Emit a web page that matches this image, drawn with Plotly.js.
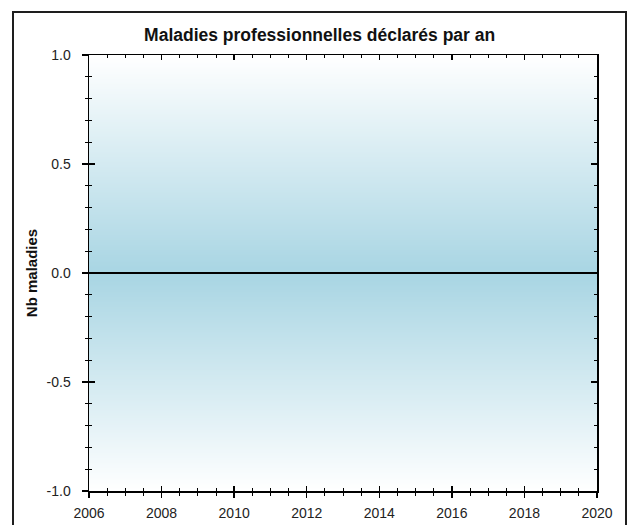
<!DOCTYPE html>
<html>
<head>
<meta charset="utf-8">
<script src="https://cdn.plot.ly/plotly-3.0.1.min.js"></script>
<style>
html,body{margin:0;padding:0;overflow:hidden;background:#fff;width:628px;height:525px}
#chart{position:absolute;left:0;top:0;width:628px;height:525px}
#frame{position:absolute;left:12px;top:11px;width:615px;height:580px;box-sizing:border-box;border:2px solid #1e1e1e;pointer-events:none;z-index:10}
</style>
</head>
<body>
<div id="chart"></div>
<div id="frame"></div>
<script>
// ---- data ----
const chartTitle = 'Maladies professionnelles déclarés par an';
const yTitle = 'Nb maladies';
const years = [];          // no declared diseases in the period
const maladies = [];
const xRange = [2006, 2020];
const xTick0 = 2006;
const xMajorStep = 2;
const xMinorStep = 0.5;
const yRange = [-1, 1];
const yTickVals = [-1, -0.5, 0, 0.5, 1];
const yTickText = ['-1.0', '-0.5', '0.0', '0.5', '1.0'];
const yMinorStep = 0.1;
const bgLevels = [-1, 0, 1];   // gradient stops of the plot background
const bgShade = [1, 0, 1];

// ---- styles ----
const FONT = 'Liberation Sans, Arial, sans-serif';
const tickFont = {family: FONT, size: 14, color: '#222'};
const INK = '#000';

const traces = [
  {
    type: 'heatmap',
    x: xRange,
    y: bgLevels,
    z: bgShade.map(v => [v, v]),
    zsmooth: 'best',
    colorscale: [[0, '#a8d5e3'], [1, '#ffffff']],
    zmin: 0, zmax: 1,
    showscale: false,
    hoverinfo: 'skip'
  },
  {
    type: 'scatter',
    mode: 'lines+markers',
    x: years,
    y: maladies,
    line: {color: '#1f5f8b', width: 2},
    showlegend: false
  },
  {
    type: 'scatter',
    mode: 'none',
    x: xRange,
    y: yRange,
    xaxis: 'x2',
    yaxis: 'y2',
    hoverinfo: 'skip',
    showlegend: false
  }
];

const layout = {
  width: 628,
  height: 525,
  margin: {l: 89, r: 31, t: 55, b: 34},
  paper_bgcolor: '#fff',
  plot_bgcolor: '#fff',
  showlegend: false,
  title: {
    text: chartTitle,
    font: {family: FONT, size: 17.5, color: '#111', weight: 'bold'},
    x: 0.509, xref: 'container', xanchor: 'center',
    y: 1 - 35 / 525, yref: 'container', yanchor: 'middle'
  },
  xaxis: {
    range: xRange,
    tickmode: 'linear', tick0: xTick0, dtick: xMajorStep,
    ticks: 'outside', ticklen: 5, tickwidth: 1.5, tickcolor: INK,
    showline: true, linecolor: INK, linewidth: 1.5, mirror: true,
    minor: {tickmode: 'linear', tick0: xTick0, dtick: xMinorStep, ticks: 'outside', ticklen: 3, tickwidth: 1, tickcolor: INK, showgrid: false},
    showgrid: false, zeroline: false,
    tickfont: tickFont, ticklabelstandoff: 4, fixedrange: true
  },
  yaxis: {
    range: yRange,
    tickmode: 'array', tickvals: yTickVals, ticktext: yTickText,
    ticks: 'outside', ticklen: 6, tickwidth: 1.5, tickcolor: INK,
    showline: true, linecolor: INK, linewidth: 1.5, mirror: true,
    minor: {tickmode: 'linear', tick0: yRange[0], dtick: yMinorStep, ticks: 'outside', ticklen: 3, tickwidth: 1, tickcolor: INK, showgrid: false},
    showgrid: false, zeroline: false,
    tickfont: tickFont, ticklabelstandoff: 8, fixedrange: true,
    title: {text: yTitle, font: {family: FONT, size: 15, color: '#111', weight: 'bold'}, standoff: 5}
  },
  xaxis2: {
    overlaying: 'x', anchor: 'y2', range: xRange,
    tickmode: 'linear', tick0: xTick0, dtick: xMajorStep,
    ticks: 'inside', ticklen: 5, tickwidth: 1.5, tickcolor: INK,
    mirror: 'ticks', showline: false, showticklabels: false,
    minor: {tickmode: 'linear', tick0: xTick0, dtick: xMinorStep, ticks: 'inside', ticklen: 3, tickwidth: 1, tickcolor: INK, showgrid: false},
    showgrid: false, zeroline: false, fixedrange: true
  },
  yaxis2: {
    overlaying: 'y', anchor: 'x2', range: yRange,
    tickmode: 'array', tickvals: yTickVals,
    ticks: 'inside', ticklen: 6, tickwidth: 1.5, tickcolor: INK,
    mirror: 'ticks', showline: false, showticklabels: false,
    minor: {tickmode: 'linear', tick0: yRange[0], dtick: yMinorStep, ticks: 'inside', ticklen: 3, tickwidth: 1, tickcolor: INK, showgrid: false},
    showgrid: false, zeroline: false, fixedrange: true
  },
  shapes: [
    {type: 'line', xref: 'paper', x0: 0, x1: 1, yref: 'y', y0: 0, y1: 0, line: {color: '#000', width: 1.8}, layer: 'above'}
  ]
};

Plotly.newPlot('chart', traces, layout, {displayModeBar: false, staticPlot: true});
</script>
</body>
</html>
